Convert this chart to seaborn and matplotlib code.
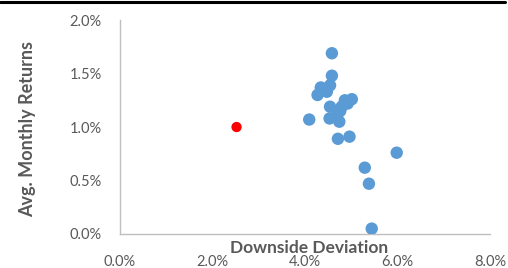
import matplotlib
matplotlib.use("Agg")
import matplotlib.pyplot as plt
import matplotlib.ticker as mtick
from matplotlib.lines import Line2D
import pandas as pd
import seaborn as sns

# downside deviation (%) and average monthly return (%)
fund_dd = [4.58, 4.58, 4.34, 4.54, 4.47, 4.27, 4.40, 4.86, 5.01, 4.92, 4.54, 4.79,
           4.76, 4.70, 4.09, 4.53, 4.74, 4.71, 4.96, 5.98, 5.29, 5.38, 5.44]
fund_ret = [1.69, 1.48, 1.37, 1.39, 1.33, 1.30, 1.35, 1.25, 1.26, 1.22, 1.19, 1.19,
            1.15, 1.12, 1.07, 1.08, 1.05, 0.89, 0.91, 0.76, 0.62, 0.47, 0.05]
bench_dd = [2.52]
bench_ret = [1.00]

funds = pd.DataFrame({"dd": fund_dd, "ret": fund_ret})
bench = pd.DataFrame({"dd": bench_dd, "ret": bench_ret})

sns.set_style("white")
plt.rcParams["font.family"] = ["Lato", "DejaVu Sans"]

grey = "#595959"
fig = plt.figure(figsize=(5.08, 2.68), dpi=100)
ax = fig.add_axes([0.236, 0.127, 0.729, 0.798])

sns.scatterplot(data=funds, x="dd", y="ret", color="#5B9BD5", s=80,
                edgecolor="none", ax=ax, zorder=3)
sns.scatterplot(data=bench, x="dd", y="ret", color="#FF0000", s=55,
                edgecolor="none", ax=ax, zorder=4)

ax.set_xlim(0, 8)
ax.set_ylim(0, 2)
ax.set_xticks([0, 2, 4, 6, 8])
ax.set_yticks([0, 0.5, 1.0, 1.5, 2.0])
ax.xaxis.set_major_formatter(mtick.FuncFormatter(lambda v, p: f"{v:.1f}%"))
ax.yaxis.set_major_formatter(mtick.FuncFormatter(lambda v, p: f"{v:.1f}%"))
ax.tick_params(axis="both", length=0, labelsize=10.5, labelcolor=grey)
ax.tick_params(axis="x", pad=15)
ax.tick_params(axis="y", pad=13)
ax.set_xlabel("")
ax.set_ylabel("")

for side in ["top", "right"]:
    ax.spines[side].set_visible(False)
for side in ["left", "bottom"]:
    ax.spines[side].set_color("#BFBFBF")
    ax.spines[side].set_linewidth(1)

ax.text(0.511, -0.065, "Downside Deviation", transform=ax.transAxes,
        ha="center", va="center", fontsize=12.5, fontweight="bold", color=grey)
fig.text(28 / 508, 1 - 129 / 268, "Avg. Monthly Returns", rotation=90,
         ha="center", va="center", fontsize=13, fontweight="bold", color=grey)

fig.add_artist(Line2D([0, 0.995], [0.991, 0.991], color="black", lw=2.2))

fig.savefig("out.png", dpi=100)
